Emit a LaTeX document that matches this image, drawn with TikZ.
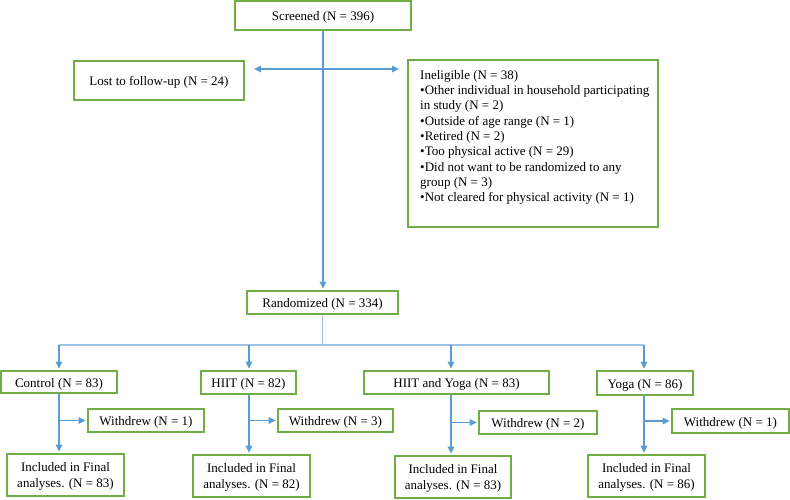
\documentclass[tikz,border=0pt]{standalone}
\usepackage{fontspec}
\setmainfont{Liberation Serif}
\usetikzlibrary{arrows.meta}
\definecolor{bgreen}{HTML}{70AD47}
\definecolor{ablue}{HTML}{5B9BD5}
\definecolor{lblue}{HTML}{9DC3E6}
\begin{document}
\begin{tikzpicture}[x=1pt,y=-1pt,
  box/.style={draw=bgreen, line width=1.6pt, inner sep=0pt, align=center,
    font=\fontsize{13}{15.3}\selectfont},
  one/.style={box, text height=10.6pt, text depth=0pt},
  two/.style={box, font=\fontsize{13}{15.8}\selectfont, text height=25.6pt, text depth=1pt},
  txt/.style={inner sep=0pt, align=left, font=\fontsize{13}{15.3}\selectfont},
  arr/.style={draw=ablue, line width=1.3pt, -{Triangle[length=7pt,width=6.5pt]}, shorten >=1.5pt},
  darr/.style={draw=ablue, line width=1.3pt, {Triangle[length=7pt,width=6.5pt]}-{Triangle[length=7pt,width=6.5pt]}},
  lline/.style={draw=lblue, line width=1.3pt}]
\useasboundingbox (0,0) rectangle (790,499);
\node[one, minimum width=176pt, minimum height=29pt] (scr) at (323,15.5) {Screened (N = 396)};
\node[one, minimum width=170pt, minimum height=39pt] (lost) at (159,80.5) {Lost to follow-up (N = 24)};
\node[box, minimum width=250pt, minimum height=167pt] (inel) at (533,143.5) {};
\node[txt, anchor=north west] (ineltxt) at (420,70) {Ineligible (N = 38)\\
\textbullet Other individual in household participating\\
in study (N = 2)\\
\textbullet Outside of age range (N = 1)\\
\textbullet Retired (N = 2)\\
\textbullet Too physical active (N = 29)\\
\textbullet Did not want to be randomized to any\\
group (N = 3)\\
\textbullet Not cleared for physical activity (N = 1)};
\node[one, minimum width=151pt, minimum height=23pt] (rand) at (322.5,302.5) {Randomized (N = 334)};

\node[one, minimum width=116pt, minimum height=22pt] (ctrl) at (59,382) {Control (N = 83)};
\node[one, minimum width=95pt, minimum height=23pt] (hiit) at (248.5,382.5) {HIIT (N = 82)};
\node[one, minimum width=185pt, minimum height=23pt] (hy) at (456.5,382.5) {HIIT and Yoga (N = 83)};
\node[one, minimum width=96pt, minimum height=24pt] (yoga) at (645,383) {Yoga (N = 86)};

\node[one, minimum width=116pt, minimum height=23pt] (w1) at (146,420.5) {Withdrew (N = 1)};
\node[one, minimum width=115pt, minimum height=23pt] (w2) at (335.5,420.5) {Withdrew (N = 3)};
\node[one, minimum width=118pt, minimum height=23pt] (w3) at (538,422.5) {Withdrew (N = 2)};
\node[one, minimum width=117pt, minimum height=24pt] (w4) at (730.5,421) {Withdrew (N = 1)};

\node[two, minimum width=117pt, minimum height=42pt] (i1) at (65.5,475) {Included in Final\\analyses. (N = 83)};
\node[two, minimum width=117pt, minimum height=42pt] (i2) at (251.5,476) {Included in Final\\analyses. (N = 82)};
\node[two, minimum width=116pt, minimum height=42pt] (i3) at (453,477) {Included in Final\\analyses. (N = 83)};
\node[two, minimum width=117pt, minimum height=42pt] (i4) at (646.5,476) {Included in Final\\analyses. (N = 86)};

% screening arrows
\draw[arr] (scr.south) -- (scr.south |- rand.north);
\coordinate (dl) at (254,69);
\coordinate (dr) at (399,69);
\draw[darr] (dl) -- (dr);

% randomization branches
\coordinate (b1) at (59,345);
\coordinate (b2) at (249,345);
\coordinate (b3) at (451,345);
\coordinate (b4) at (644,345);
\draw[lline] (rand.south) -- (rand.south |- b1);
\draw[lline] (b1) -- (b4);
\draw[arr] (b1) -- (b1 |- ctrl.north);
\draw[arr] (b2) -- (b2 |- hiit.north);
\draw[arr] (b3) -- (b3 |- hy.north);
\draw[arr] (b4) -- (b4 |- yoga.north);

% group flows
\draw[arr] (b1 |- ctrl.south) -- (b1 |- i1.north);
\draw[arr] (b1 |- w1.west) -- (w1.west);
\draw[arr] (b2 |- hiit.south) -- (b2 |- i2.north);
\draw[arr] (b2 |- w2.west) -- (w2.west);
\draw[arr] (b3 |- hy.south) -- (b3 |- i3.north);
\draw[arr] (b3 |- w3.west) -- (w3.west);
\draw[arr] (b4 |- yoga.south) -- (b4 |- i4.north);
\draw[arr] (b4 |- w4.west) -- (w4.west);
\end{tikzpicture}
\end{document}
